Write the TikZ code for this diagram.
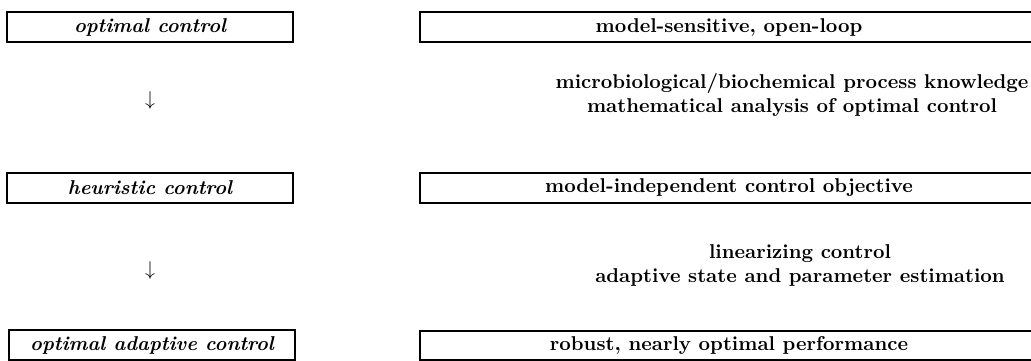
\documentclass[tikz,border=0pt]{standalone}
\begin{document}
\begin{tikzpicture}[x=0.5pt,y=-0.5pt,
  every node/.style={font=\fontsize{10}{12}\selectfont\bfseries, inner sep=0pt},
  stage/.style={draw, line width=1pt, minimum width=143pt, minimum height=15pt, font=\fontsize{10}{12}\selectfont\bfseries\itshape},
  frame/.style={draw, line width=1pt},
  note/.style={align=center, font=\fontsize{10}{12}\selectfont\bfseries}]
\useasboundingbox (0,0) rectangle (1031,360);
% left column: control strategies
\node[stage] (oc) at (150,27) {optimal control};
\node (a1) at (150,100) {$\downarrow$};
\node[stage] (hc) at (150,188) {heuristic control};
\node (a2) at (150,270) {$\downarrow$};
\node[stage] (oac) at (152,345) {optimal adaptive control};
% right column: properties and required tools
\draw[frame] (1045,12) -- (420,12) -- (420,42) -- (1045,42);
\node (p1) at (729,27) {model-sensitive, open-loop};
\node[note] (t1) at (792,95) {microbiological/biochemical process knowledge\\mathematical analysis of optimal control};
\draw[frame] (1045,173) -- (420,173) -- (420,203) -- (1045,203);
\node (p2) at (729,188) {model-independent control objective};
\node[note] (t2) at (800,265) {linearizing control\\adaptive state and parameter estimation};
\draw[frame] (1045,331) -- (420,331) -- (420,360) -- (1045,360);
\node (p3) at (729,345) {robust, nearly optimal performance};
\end{tikzpicture}
\end{document}
